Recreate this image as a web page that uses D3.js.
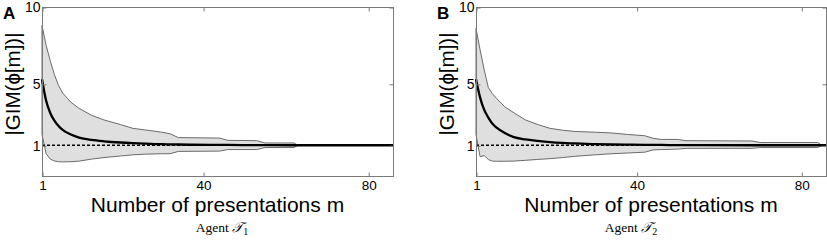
<!DOCTYPE html>
<html>
<head>
<meta charset="utf-8">
<script src="https://cdn.jsdelivr.net/npm/d3@7"></script>
<style>
html,body{margin:0;padding:0;background:#fff;}
svg{display:block;}
</style>
</head>
<body>
<svg id="chart" width="827" height="241"></svg>
<script>
// ---- data ----
const xTicks = [1, 40, 80];
const yTicks = [1, 5, 10];
const panelLetters = ["A", "B"];
const captions = ["1", "2"];

const mA = [1,2,3,4,5,6,8,10,13,16,20,23,26,30,32,34,44,46,53,55,62,63,86];
const upperA = [8.8,7.5,6.5,5.6,4.9,4.4,3.8,3.4,2.95,2.65,2.35,2.1,2.0,1.85,1.75,1.5,1.47,1.32,1.3,1.15,1.15,1.0,1.0];
const lowerA = [1.7,0.45,0.1,-0.02,-0.07,-0.08,-0.07,-0.03,0.1,0.2,0.3,0.38,0.42,0.45,0.45,0.6,0.62,0.72,0.72,0.85,0.85,1.0,1.0];
const meanA  = [5.3,3.9,3.1,2.6,2.25,2.0,1.7,1.5,1.35,1.26,1.18,1.14,1.11,1.07,1.06,1.05,1.02,1.02,1.01,1.01,1.0,1.0,1.0];

const mB = [1,2,3,4,5,6,8,10,13,16,19,22,25,30,34,38,42,44,46,50,52,68,70,84,85,86];
const upperB = [8.6,7.2,5.9,4.75,4.35,4.05,3.5,3.15,2.65,2.35,2.1,1.98,1.9,1.85,1.8,1.7,1.62,1.45,1.38,1.38,1.3,1.28,1.18,1.18,1.0,1.0];
const lowerB = [1.7,0.25,0.33,0.07,-0.03,-0.04,-0.04,-0.03,0.02,0.08,0.13,0.2,0.28,0.38,0.45,0.5,0.55,0.7,0.72,0.75,0.8,0.8,0.85,0.85,1.0,1.0];
const meanB  = [5.3,4.1,3.3,2.8,2.4,2.15,1.8,1.55,1.38,1.28,1.2,1.15,1.12,1.07,1.05,1.04,1.03,1.02,1.02,1.01,1.01,1.0,1.0,1.0,1.0,1.0];

const xDomain = [1, 86];
const yDomain = [-1, 10];
const refLevel = 1;

// ---- layout ----
const panels = [
  {letter: panelLetters[0], sub: captions[0], m: mA, up: upperA, lo: lowerA, mean: meanA, left: 42, right: 393, capX: 222},
  {letter: panelLetters[1], sub: captions[1], m: mB, up: upperB, lo: lowerB, mean: meanB, left: 476, right: 826, capX: 631}
];
const plotTop = 7, plotBottom = 176;

const svg = d3.select("#chart");
const sans = "'Liberation Sans', Arial, Helvetica, sans-serif";
const serif = "'Liberation Serif', 'Times New Roman', serif";

panels.forEach(p => {
  const x = d3.scaleLinear().domain(xDomain).range([p.left, p.right]);
  const y = d3.scaleLinear().domain(yDomain).range([plotBottom, plotTop]);
  const g = svg.append("g");
  const data = p.m.map((m, i) => ({m, up: p.up[i], lo: p.lo[i], mean: p.mean[i]}));

  // band
  const area = d3.area().x(d => x(d.m)).y0(d => y(d.lo)).y1(d => y(d.up));
  g.append("path").datum(data).attr("d", area)
    .attr("fill", "#dfdfdf").attr("stroke", "#6a6a6a").attr("stroke-width", 1)
    .attr("stroke-linejoin", "round");

  // dashed reference line at 1
  g.append("line")
    .attr("x1", x(xDomain[0])).attr("x2", x(xDomain[1]))
    .attr("y1", y(refLevel)).attr("y2", y(refLevel))
    .attr("stroke", "#000").attr("stroke-width", 1.3).attr("stroke-dasharray", "3,2");

  // mean line
  const line = d3.line().x(d => x(d.m)).y(d => y(d.mean)).curve(d3.curveMonotoneX);
  g.append("path").datum(data).attr("d", line)
    .attr("fill", "none").attr("stroke", "#000").attr("stroke-width", 2.3);

  // box
  g.append("rect").attr("x", p.left + 0.5).attr("y", plotTop + 0.5)
    .attr("width", p.right - p.left).attr("height", plotBottom - plotTop)
    .attr("fill", "none").attr("stroke", "#7a7a7a").attr("stroke-width", 1);

  // axes (ticks inward)
  const tl = 4;
  const axB = d3.axisBottom(x).tickValues(xTicks).tickSize(-tl).tickPadding(4);
  const gB = g.append("g").attr("transform", `translate(0.5,${plotBottom + 0.5})`).call(axB);
  const axT = d3.axisTop(x).tickValues(xTicks).tickSize(-tl).tickFormat("");
  const gT = g.append("g").attr("transform", `translate(0.5,${plotTop + 0.5})`).call(axT);
  const axL = d3.axisLeft(y).tickValues(yTicks).tickSize(-tl).tickPadding(2);
  const gL = g.append("g").attr("transform", `translate(${p.left + 0.5},0.5)`).call(axL);
  const axR = d3.axisRight(y).tickValues(yTicks).tickSize(-tl).tickFormat("");
  const gR = g.append("g").attr("transform", `translate(${p.right + 0.5},0.5)`).call(axR);
  [gB, gT, gL, gR].forEach(a => {
    a.select(".domain").remove();
    a.selectAll(".tick line").attr("stroke", "#7a7a7a");
    a.selectAll("text").attr("fill", "#000").style("font-family", sans).style("font-size", "14px");
  });
  gB.selectAll("text").style("font-size", "13.5px");

  // x label
  g.append("text").attr("x", (p.left + p.right) / 2).attr("y", 212)
    .attr("text-anchor", "middle").style("font-family", sans).style("font-size", "21px")
    .text("Number of presentations m");

  // y label
  g.append("text")
    .attr("transform", `translate(${p.left - 22.5},${84}) rotate(-90)`)
    .attr("text-anchor", "middle").style("font-family", sans).style("font-size", "20.5px")
    .text("|GIM(\u03D5[m])|");

  // panel letter
  g.append("text").attr("x", p.left - 39).attr("y", 19)
    .style("font-family", sans).style("font-size", "17px").style("font-weight", "bold")
    .text(p.letter);

  // caption
  const cap = g.append("text").attr("x", p.capX).attr("y", 232)
    .attr("text-anchor", "middle").style("font-family", serif).style("font-size", "13.5px");
  cap.append("tspan").text("Agent ");
  cap.append("tspan").style("font-style", "italic").style("font-family", "'DejaVu Serif', serif").style("font-size", "14px").text("\uD835\uDCAF");
  cap.append("tspan").attr("dy", 3).style("font-size", "10px").text(p.sub);
});
</script>
</body>
</html>
